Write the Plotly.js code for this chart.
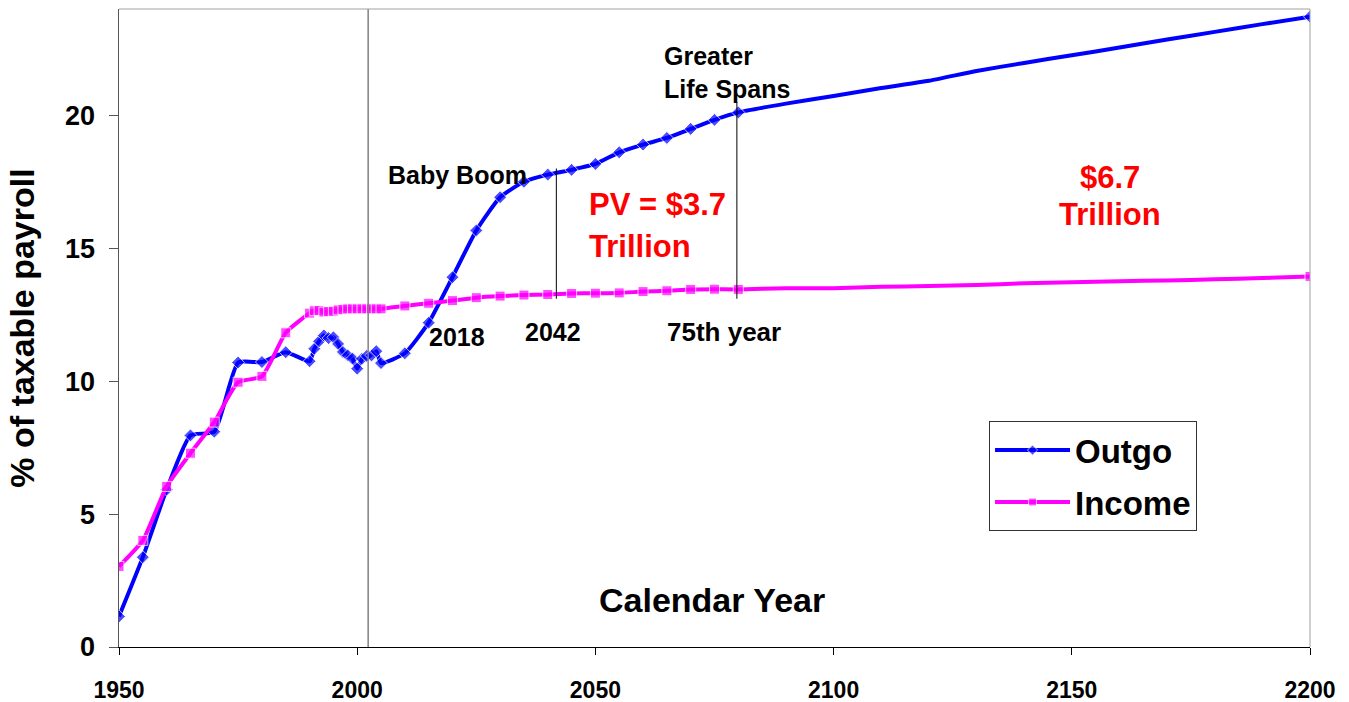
<!DOCTYPE html>
<html>
<head>
<meta charset="utf-8">
<script src="https://cdn.plot.ly/plotly-3.0.1.min.js"></script>
<style>html,body{margin:0;padding:0;background:#fff;}#chart{width:1349px;height:702px;}</style>
</head>
<body>
<div id="chart"></div>
<script>
// ---- data ----
const outgoYears = [1950,1955,1960,1965,1970,1975,1980,1985,1990,1991,1992,1993,1994,1995,1996,1997,1998,1999,2000,2001,2002,2003,2004,2005,2010,2015,2020,2025,2030,2035,2040,2045,2050,2055,2060,2065,2070,2075,2080,2090,2100,2110,2120,2130,2140,2150,2160,2170,2180,2190,2200];
const outgoValues = [1.15,3.38,5.92,7.96,8.1,10.7,10.72,11.09,10.75,11.22,11.5,11.72,11.62,11.65,11.4,11.1,10.97,10.85,10.47,10.84,10.95,10.97,11.13,10.68,11.05,12.2,13.91,15.67,16.92,17.5,17.77,17.95,18.17,18.61,18.9,19.15,19.49,19.83,20.11,20.44,20.73,21.03,21.3,21.67,21.97,22.26,22.55,22.85,23.14,23.43,23.71];

const incomeYears = [1950,1955,1960,1965,1970,1975,1980,1985,1990,1991,1992,1993,1994,1995,1996,1997,1998,1999,2000,2001,2002,2003,2004,2005,2010,2015,2020,2025,2030,2035,2040,2045,2050,2055,2060,2065,2070,2075,2080,2090,2100,2110,2120,2130,2140,2150,2160,2170,2180,2190,2200];
const incomeValues = [3.03,4.01,6.04,7.29,8.46,9.96,10.18,11.82,12.56,12.65,12.66,12.6,12.62,12.63,12.68,12.7,12.72,12.72,12.72,12.72,12.72,12.72,12.72,12.72,12.83,12.93,13.03,13.14,13.2,13.24,13.26,13.3,13.31,13.32,13.37,13.4,13.45,13.46,13.45,13.5,13.5,13.55,13.58,13.62,13.68,13.72,13.76,13.79,13.83,13.88,13.94];

const xTickVals = [1950,2000,2050,2100,2150,2200];
const yTickVals = [0,5,10,15,20];

const seriesNames = ['Outgo','Income'];
const yTitle = '% of taxable payroll';
const xTitle = 'Calendar Year';

// ---- styling ----
const FONT = 'Liberation Sans, Arial, Helvetica, sans-serif';
function markerSizes(years, s){ return years.map(y => (y > 2080 && y < 2200) ? 0 : s); }

const traces = [
  {
    x: outgoYears, y: outgoValues, name: seriesNames[0], type: 'scatter', mode: 'lines+markers',
    line: {color: '#0000FF', width: 4, shape: 'spline', smoothing: 0.5},
    marker: {symbol: 'diamond', color: '#0000FF', size: markerSizes(outgoYears, 10)},
    legendgroup: 'a'
  },
  {
    x: incomeYears, y: incomeValues, name: seriesNames[1], type: 'scatter', mode: 'lines+markers',
    line: {color: '#FF00FF', width: 4, shape: 'spline', smoothing: 0.5},
    marker: {symbol: 'square', color: '#FF00FF', size: markerSizes(incomeYears, 10)},
    legendgroup: 'b'
  }
];

const boldBlack = (s) => ({family: FONT, size: s, color: '#000', weight: 'bold'});
const boldRed = (s) => ({family: FONT, size: s, color: '#FF0000', weight: 'bold'});

const annotations = [
  {x: 2074.5, y: 1.76, text: xTitle, showarrow: false, font: boldBlack(34)},
  {x: 2021.0, y: 17.75, text: 'Baby Boom', showarrow: false, font: boldBlack(25)},
  {x: 2021.0, y: 11.65, text: '2018', showarrow: false, font: boldBlack(25)},
  {x: 2041.1, y: 11.84, text: '2042', showarrow: false, font: boldBlack(25)},
  {x: 2077.0, y: 11.84, text: '75th year', showarrow: false, font: boldBlack(26)},
  {x: 2064.0, y: 22.25, text: 'Greater', showarrow: false, xanchor: 'left', font: boldBlack(25)},
  {x: 2064.0, y: 21.0, text: 'Life Spans', showarrow: false, xanchor: 'left', font: boldBlack(25)},
  {x: 2048.2, y: 16.65, text: 'PV = $3.7', showarrow: false, xanchor: 'left', font: boldRed(31)},
  {x: 2048.2, y: 15.08, text: 'Trillion', showarrow: false, xanchor: 'left', font: boldRed(31)},
  {x: 2158.0, y: 17.67, text: '$6.7', showarrow: false, xanchor: 'center', font: boldRed(31)},
  {x: 2158.0, y: 16.28, text: 'Trillion', showarrow: false, xanchor: 'center', font: boldRed(31)}
];

const shapes = [
  {type: 'line', xref: 'x', yref: 'paper', x0: 2002.3, x1: 2002.3, y0: 0, y1: 1, line: {color: '#808080', width: 1.5}},
  {type: 'line', xref: 'x', yref: 'y', x0: 2041.8, x1: 2041.8, y0: 13.1, y1: 18.0, line: {color: '#000', width: 1}},
  {type: 'line', xref: 'x', yref: 'y', x0: 2079.7, x1: 2079.7, y0: 13.1, y1: 20.5, line: {color: '#000', width: 1}},
  {type: 'line', xref: 'paper', yref: 'paper', x0: 0, x1: 1, y0: 1, y1: 1, line: {color: '#A0A0A0', width: 1}},
  {type: 'line', xref: 'paper', yref: 'paper', x0: 1, x1: 1, y0: 0, y1: 1, line: {color: '#A0A0A0', width: 1}}
];

const layout = {
  width: 1349, height: 702,
  margin: {l: 119, r: 39, t: 9, b: 55, pad: 0},
  paper_bgcolor: '#fff', plot_bgcolor: '#fff',
  font: {family: FONT, color: '#000'},
  showlegend: true,
  legend: {
    x: 0.7305, y: 0.354, xanchor: 'left', yanchor: 'top',
    bgcolor: '#fff', bordercolor: '#333', borderwidth: 1,
    font: boldBlack(33), traceorder: 'grouped', tracegroupgap: 6,
    itemwidth: 75
  },
  xaxis: {
    range: [1950, 2200], tickvals: xTickVals, ticktext: xTickVals.map(String),
    showgrid: false, zeroline: false, showline: true, linecolor: '#000', linewidth: 1,
    ticks: 'outside', ticklen: 7, tickcolor: '#000', ticklabelstandoff: 15,
    tickfont: boldBlack(23), automargin: false
  },
  yaxis: {
    range: [0, 24], tickvals: yTickVals, ticktext: yTickVals.map(String),
    showgrid: false, zeroline: false, showline: true, linecolor: '#555', linewidth: 1.5,
    ticks: 'outside', ticklen: 9, tickcolor: '#555', ticklabelstandoff: 8,
    tickfont: boldBlack(27), automargin: false,
    title: {text: yTitle, font: boldBlack(34), standoff: 20}
  },
  annotations: annotations,
  shapes: shapes
};

Plotly.newPlot('chart', traces, layout, {displayModeBar: false, staticPlot: true});
</script>
</body>
</html>
